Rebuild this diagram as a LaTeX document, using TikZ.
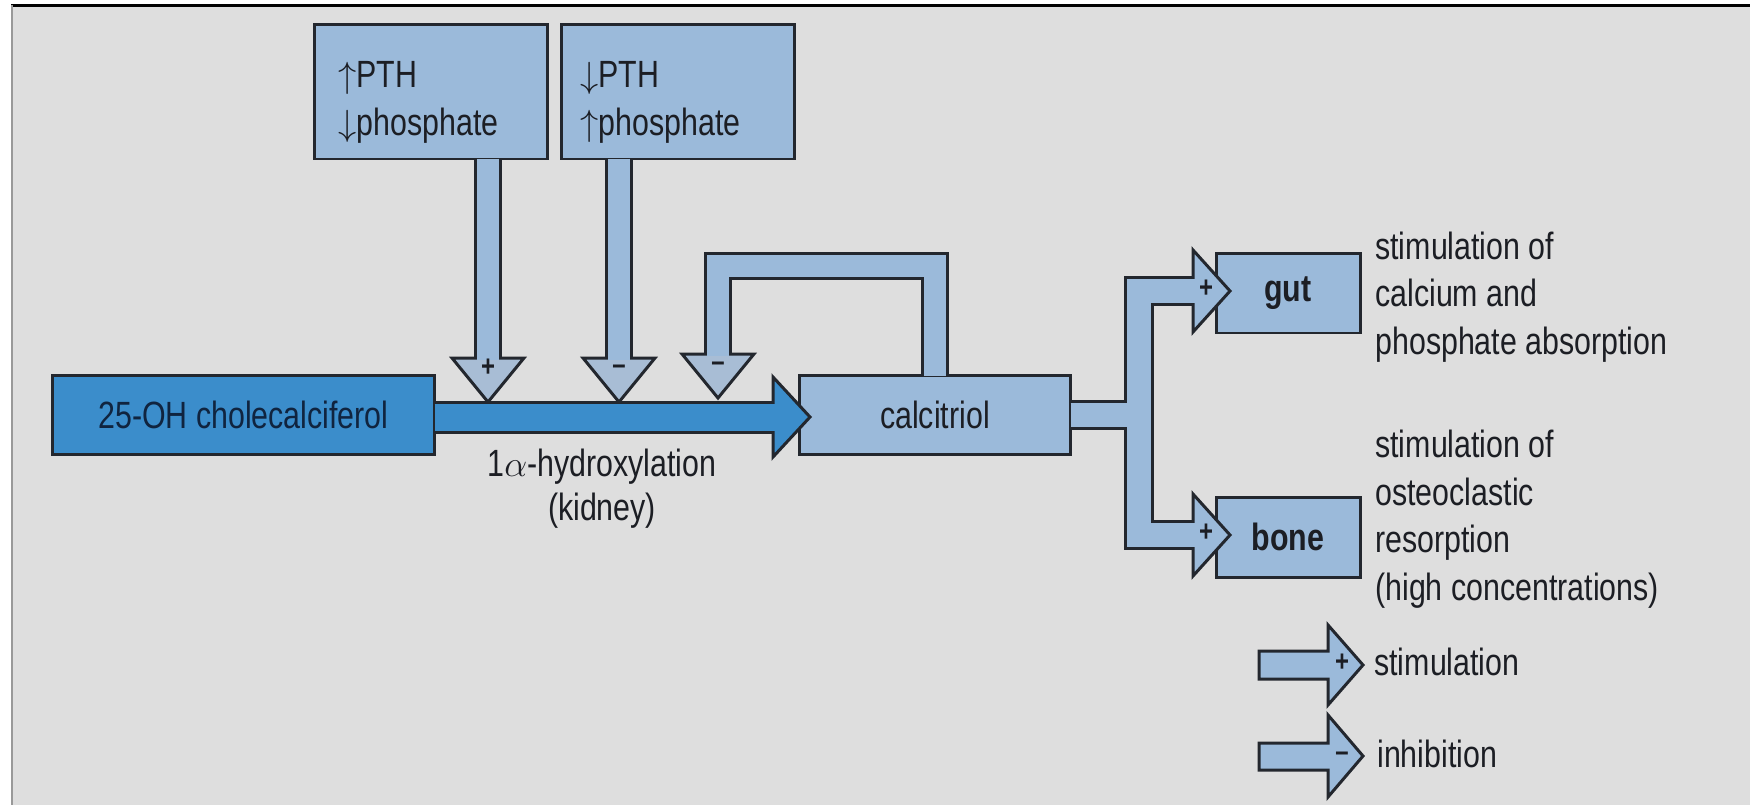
\documentclass[tikz,border=0pt]{standalone}
\usepackage{fontspec}
\setmainfont{Liberation Sans}[FakeStretch=0.8]
\usepackage{tikz}

\definecolor{paper}{HTML}{DEDEDE}
\definecolor{pale}{HTML}{9BBADA}
\definecolor{palehead}{HTML}{A8BDD5}
\definecolor{deep}{HTML}{3B8DCB}
\definecolor{rim}{HTML}{23272E}
\definecolor{ink}{HTML}{1C1E24}
\definecolor{navy}{HTML}{10243F}

\tikzset{
  stage/.style={draw=rim, line width=1.7pt, fill=pale, text=ink},
  source/.style={stage, fill=deep, text=navy},
  organ/.style={stage, font=\fontsize{21.6pt}{27pt}\selectfont\bfseries},
  bandout/.style={draw=rim, line width=#1, line cap=butt, line join=miter},
  bandin/.style={draw=pale, line width=#1, line cap=butt, line join=miter},
  tiphead/.style={draw=rim, line width=1.7pt, line join=miter, fill=pale},
  sign/.style={inner sep=0pt, text=ink, font=\fontsize{17pt}{17pt}\selectfont\bfseries},
  note/.style={anchor=base west, align=left, inner sep=0pt, text=ink},
}

\begin{document}
\begin{tikzpicture}[x=0.02cm, y=-0.02cm, font=\fontsize{21.6pt}{27pt}\selectfont]
    \useasboundingbox (0,0) rectangle (1750,806);
    \fill[white] (0,0) rectangle (1750,806);
    \fill[paper] (12,5) rectangle (1750,805);
    \draw[black, line width=0.06cm] (11,5) -- (1750,5);
    \draw[gray!80, line width=0.04cm] (12,5) -- (12,805);

    \node[source, minimum width=7.66cm, minimum height=1.58cm]
        (chol) at (243.5,415) {25-OH cholecalciferol};

    \node[stage, minimum width=5.44cm, minimum height=1.58cm]
        (calc) at (935,415) {calcitriol};

    \node[stage, minimum width=4.68cm, minimum height=2.7cm]
        (pthup) at (431,91.5) {};

    \node[stage, minimum width=4.68cm, minimum height=2.7cm]
        (pthdn) at (678,91.5) {};

    \node[organ, minimum width=2.88cm, minimum height=1.6cm]
        (gut) at (1288,293) {gut};

    \node[organ, minimum width=2.88cm, minimum height=1.6cm]
        (bone) at (1288,537) {bone};

    \coordinate (tipA) at (488,402);
    \coordinate (tipB) at (619,402);
    \coordinate (tipC) at (718,398);
    \coordinate (tipM) at (810,417);
    \coordinate (tipG) at (1230,291);
    \coordinate (tipO) at (1230,535);

    % dark rims of the bands
    \draw[bandout=0.56cm] ([yshift=1pt]pthup.south -| tipA) -- ([shift={(0,-42)}]tipA);
    \draw[bandout=0.56cm] ([yshift=1pt]pthdn.south -| tipB) -- ([shift={(0,-42)}]tipB);
    \draw[bandout=0.56cm] ([yshift=-1pt]calc.north) -- ++(0,-110) -| ([shift={(0,-42)}]tipC);
    \draw[bandout=0.66cm] ([xshift=-1pt]chol.east |- tipM) -- ([shift={(-35,0)}]tipM);
    \draw[bandout=0.6cm] ([xshift=-1pt]calc.east) -- ++(70,0);
    \draw[bandout=0.6cm] ([shift={(-35,0)}]tipG) -- ++(-56,0) |- ([shift={(-35,0)}]tipO);

    % heads
    \filldraw[tiphead, fill=palehead] (tipA) -- ++(-36,-44) -- ++(72,0) -- cycle;
    \filldraw[tiphead, fill=palehead] (tipB) -- ++(-36,-44) -- ++(72,0) -- cycle;
    \filldraw[tiphead, fill=palehead] (tipC) -- ++(-36,-44) -- ++(72,0) -- cycle;
    \filldraw[tiphead, fill=deep] (tipM) -- ++(-37,-40) -- ++(0,80) -- cycle;
    \filldraw[tiphead] (tipG) -- ++(-37,-41) -- ++(0,82) -- cycle;
    \filldraw[tiphead] (tipO) -- ++(-37,-41) -- ++(0,82) -- cycle;

    % band fills
    \draw[bandin=0.44cm] ([yshift=1pt]pthup.south -| tipA) -- ([shift={(0,-42)}]tipA);
    \draw[bandin=0.44cm] ([yshift=1pt]pthdn.south -| tipB) -- ([shift={(0,-42)}]tipB);
    \draw[bandin=0.44cm] ([yshift=-1pt]calc.north) -- ++(0,-110) -| ([shift={(0,-42)}]tipC);
    \draw[bandin=0.54cm, draw=deep] ([xshift=-1pt]chol.east |- tipM) -- ([shift={(-35,0)}]tipM);
    \draw[bandin=0.48cm] ([xshift=-1pt]calc.east) -- ++(70,0);
    \draw[bandin=0.48cm] ([shift={(-35,0)}]tipG) -- ++(-56,0) |- ([shift={(-35,0)}]tipO);

    \node[sign] (sgnA) at (488,368) {+};
    \node[sign] (sgnB) at (619,370) {\textendash};
    \node[sign] (sgnC) at (718,367) {\textendash};
    \node[sign] (sgnG) at (1206,289) {+};
    \node[sign] (sgnO) at (1206,533) {+};

    \node[note] (pthuptxt) at (338,135) {$\uparrow$PTH\\$\downarrow$phosphate};
    \node[note] (pthdntxt) at (580,135) {$\downarrow$PTH\\$\uparrow$phosphate};

    \node[anchor=base, align=center, inner sep=0pt, text=ink,
        font=\fontsize{21.6pt}{24.5pt}\selectfont]
        (hydrox) at (602,520) {1$\alpha$-hydroxylation\\(kidney)};

    \node[note] (guttxt) at (1375,354) {stimulation of\\calcium and\\phosphate absorption};
    \node[note] (bonetxt) at (1375,600) {stimulation of\\osteoclastic\\resorption\\(high concentrations)};

    % key
    \coordinate (keyS) at (1363,665);
    \coordinate (keyI) at (1363,756);
    \filldraw[tiphead] (keyS) -- ++(-35,-40) -- ++(0,26) -- ++(-69,0) -- ++(0,28)
        -- ++(69,0) -- ++(0,26) -- cycle;
    \filldraw[tiphead] (keyI) -- ++(-35,-41) -- ++(0,28) -- ++(-69,0) -- ++(0,27)
        -- ++(69,0) -- ++(0,27) -- cycle;
    \node[sign] (sgnS) at (1342,663) {+};
    \node[sign] (sgnI) at (1342,757) {\textendash};
    \node[note] (stimtxt) at (1374,675) {stimulation};
    \node[note] (inhibtxt) at (1377,767) {inhibition};
\end{tikzpicture}
\end{document}
